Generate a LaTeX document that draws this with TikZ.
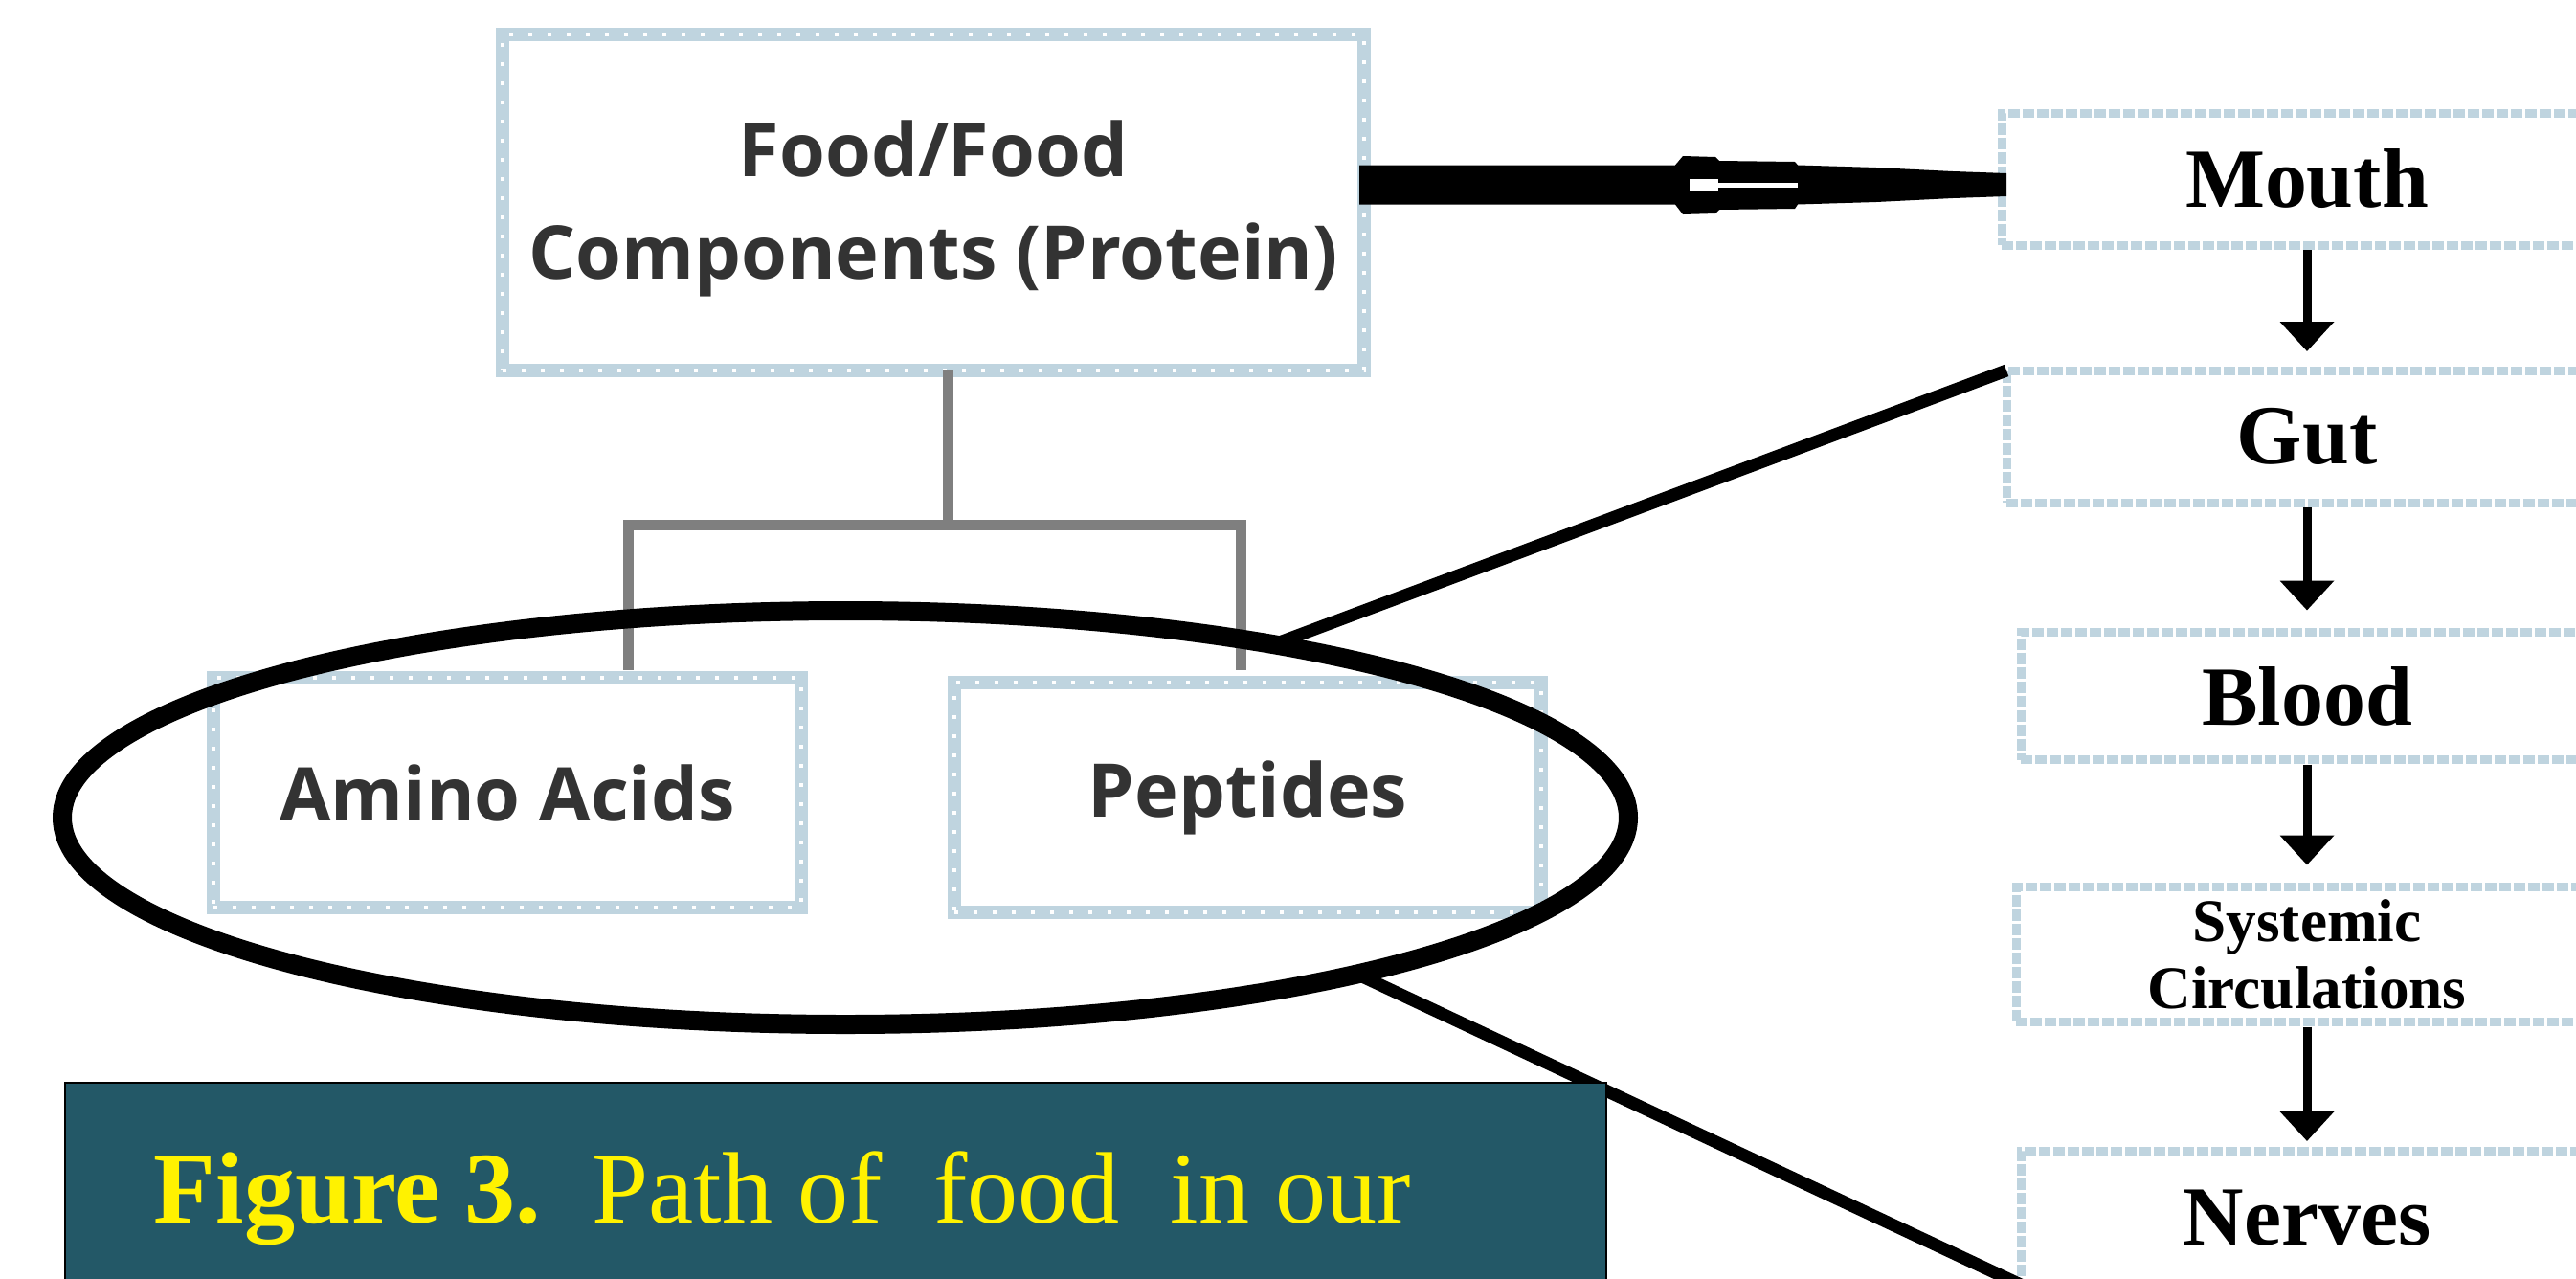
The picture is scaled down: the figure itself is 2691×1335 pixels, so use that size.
\documentclass[tikz,border=0pt]{standalone}
\usepackage{fontspec}
\setmainfont{Liberation Serif}
\newfontfamily\osans{Open Sans}
\usetikzlibrary{arrows.meta,calc,shapes.geometric}
\definecolor{boxblue}{HTML}{BFD4DF}
\definecolor{txtgray}{HTML}{333333}
\definecolor{capfill}{HTML}{235867}
\definecolor{treegray}{HTML}{7F7F7F}
\begin{document}
\begin{tikzpicture}[x=0.1mm,y=-0.1mm,
  sansbox/.style={rectangle, draw=boxblue, line width=1.4mm, inner sep=0pt, outer sep=0pt,
    fill=white, font=\osans\bfseries\fontsize{22}{30.4}\selectfont, text=txtgray, align=center,
    postaction={draw=white, line width=0.35mm, dash pattern=on 0.4mm off 1.6mm}},
  pathbox/.style={rectangle, draw=boxblue, line width=0.9mm, dash pattern=on 1.2mm off 0.3mm,
    inner sep=0pt, outer sep=0pt, fill=white, font=\bfseries\fontsize{25}{28}\selectfont, align=center},
  flow/.style={-{Triangle[width=5.5mm,length=3.1mm]}, line width=0.9mm, black},
  tree/.style={draw=treegray, line width=1.1mm},
  zoomline/.style={draw=black, line width=1.3mm},
  oval/.style={draw=black, ellipse, line width=2mm, inner sep=0pt, outer sep=0pt}]
\useasboundingbox (0,0) rectangle (2691,1335);
\clip (0,0) rectangle (2691,1335);
\fill[white] (0,0) rectangle (2691,1335);

% left hierarchy
\node[sansbox, minimum width=90mm, minimum height=35.1mm, text depth=0.6mm] (food) at (975,211.5) {Food/Food\\Components (Protein)};
\node[sansbox, minimum width=61.4mm, minimum height=24mm] (amino) at (530,828) {Amino Acids};
\node[sansbox, minimum width=61.3mm, minimum height=24mm] (pept) at (1303.5,833) {Peptides};

\draw[tree] ([xshift=1.5mm]food.south) -- ++(0,161) coordinate (bar)
  -| ([xshift=12.6mm,yshift=0.8mm]amino.north);
\draw[tree] (bar) -| ([xshift=-0.75mm,yshift=1.3mm]pept.north);

% right column
\node[pathbox, minimum width=63.8mm, minimum height=13.8mm] (mouth) at (2410,187) {Mouth};
\node[pathbox, minimum width=62.8mm, minimum height=13.8mm] (gut) at (2410,456) {Gut};
\node[pathbox, minimum width=59.8mm, minimum height=13.3mm] (blood) at (2410,727) {Blood};
\node[pathbox, minimum width=60.8mm, minimum height=14.1mm, font=\bfseries\fontsize{18}{20}\selectfont] (sys) at (2410,997) {Systemic\\Circulations};
\node[pathbox, minimum width=59.8mm, minimum height=14.0mm] (nerves) at (2410,1272) {Nerves};

\draw[flow, shorten <=0.5mm, shorten >=2mm] (mouth.south) -- (gut.north);
\draw[flow, shorten <=0.5mm, shorten >=2.3mm] (gut.south) -- (blood.north);
\draw[flow, shorten <=0.5mm, shorten >=2.3mm] (blood.south) -- (sys.north);
\draw[flow, shorten <=0.5mm, shorten >=1mm] (sys.south) -- (nerves.north);

% thick connector food -> mouth
\coordinate (mS) at ($(food.east |- mouth.west)+(-5,6)$);
\begin{scope}[shift={(mS)}]
\fill[black] (0,-20.5) -- (330,-20.5) -- (338,-30) -- (372,-29) -- (376,-25) -- (455,-24) -- (458,-20.5)
  -- (540,-18) -- (620,-14) -- (676,-12) -- (676,12) -- (620,14) -- (540,18) -- (458,20.5) -- (455,25) -- (376,26) -- (372,30) -- (338,31)
  -- (330,20.5) -- (0,20.5) -- cycle;
\fill[white] (345,-6) rectangle (375,7);
\fill[white] (375,-2) rectangle (458,3);
\end{scope}

% ellipse and zoom lines
\node[oval, minimum width=163.6mm, minimum height=43.2mm] (ring) at (883,854) {};
\draw[zoomline] (ring.22.6) -- (gut.north west);
\draw[zoomline] (ring.-17.5) -- (nerves.south west);

% caption
\node[fill=capfill, draw=black, line width=0.2mm, minimum width=161mm, minimum height=30mm,
  anchor=north west, inner sep=0pt, outer sep=0pt] (cap) at (68,1131) {};
\node[anchor=base west, text=yellow, font=\fontsize{30.2}{36}\selectfont, inner sep=0pt] (captxt)
  at ($(cap.north west)+(92,146)$) {\textbf{Figure 3.}\ \ Path of\ \ food\ \ in our};
\end{tikzpicture}
\end{document}
